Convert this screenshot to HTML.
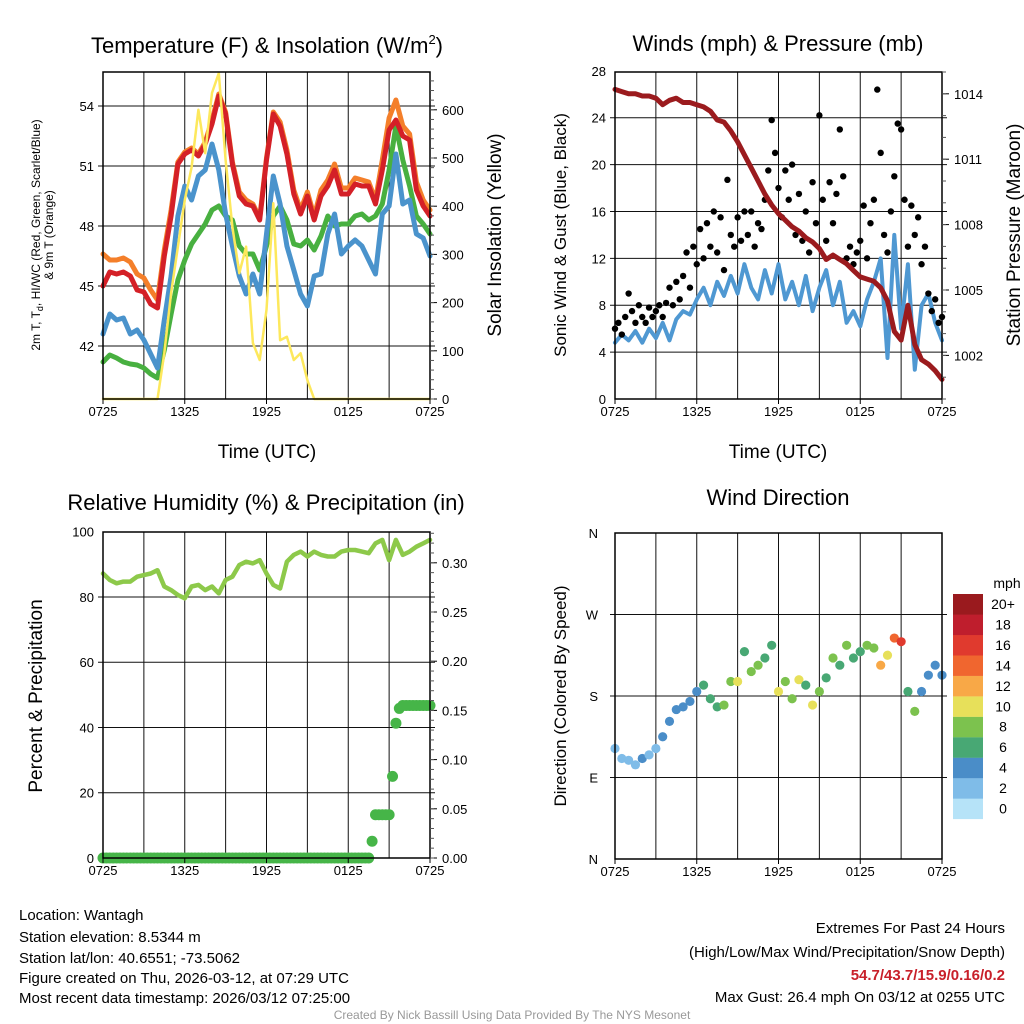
<!DOCTYPE html>
<html><head><meta charset="utf-8"><style>
html,body{margin:0;padding:0;background:#fff;}
svg{display:block;font-family:"Liberation Sans",Arial,sans-serif;}
</style></head><body>
<svg id="chart" width="1024" height="1024" viewBox="0 0 1024 1024" xmlns="http://www.w3.org/2000/svg">
<rect width="1024" height="1024" fill="#fff"/>
<g id="grids"></g>
<g id="marks"></g>
<g id="axes"></g>
<text x="267" y="53" font-size="22" text-anchor="middle">Temperature (F) &amp; Insolation (W/m<tspan font-size="13" dy="-9">2</tspan><tspan dy="9">)</tspan></text>
<text x="778" y="51" font-size="22" text-anchor="middle">Winds (mph) &amp; Pressure (mb)</text>
<text x="266" y="510" font-size="22" text-anchor="middle">Relative Humidity (%) &amp; Precipitation (in)</text>
<text x="778" y="505" font-size="22" text-anchor="middle">Wind Direction</text>
<text x="267" y="458" font-size="19" text-anchor="middle">Time (UTC)</text>
<text x="778" y="458" font-size="19" text-anchor="middle">Time (UTC)</text>
<text transform="translate(40,235) rotate(-90)" font-size="12" text-anchor="middle">2m T, T<tspan font-size="9" dy="3">d</tspan><tspan dy="-3">, HI/WC (Red, Green, Scarlet/Blue)</tspan></text>
<text transform="translate(53,235) rotate(-90)" font-size="12" text-anchor="middle">&amp; 9m T (Orange)</text>
<text transform="translate(501,235) rotate(-90)" font-size="19" text-anchor="middle">Solar Insolation (Yellow)</text>
<text transform="translate(566,235) rotate(-90)" font-size="17" text-anchor="middle">Sonic Wind &amp; Gust (Blue, Black)</text>
<text transform="translate(1020,235) rotate(-90)" font-size="19" text-anchor="middle">Station Pressure (Maroon)</text>
<text transform="translate(42,696) rotate(-90)" font-size="19" text-anchor="middle">Percent &amp; Precipitation</text>
<text transform="translate(566,696) rotate(-90)" font-size="17" text-anchor="middle">Direction (Colored By Speed)</text>
<g id="colorbar"></g>
<text x="1007" y="588" font-size="14" text-anchor="middle">mph</text>
<g font-size="15">
<text x="19" y="920">Location: Wantagh</text>
<text x="19" y="942">Station elevation: 8.5344 m</text>
<text x="19" y="963">Station lat/lon: 40.6551; -73.5062</text>
<text x="19" y="983">Figure created on Thu, 2026-03-12, at 07:29 UTC</text>
<text x="19" y="1003">Most recent data timestamp: 2026/03/12 07:25:00</text>
</g>
<g font-size="15" text-anchor="end">
<text x="1005" y="933">Extremes For Past 24 Hours</text>
<text x="1005" y="957">(High/Low/Max Wind/Precipitation/Snow Depth)</text>
<text x="1005" y="980" fill="#c8202a" font-weight="bold">54.7/43.7/15.9/0.16/0.2</text>
<text x="1005" y="1002">Max Gust: 26.4 mph On 03/12 at 0255 UTC</text>
</g>
<text x="512" y="1019" font-size="12" fill="#999" text-anchor="middle">Created By Nick Bassill Using Data Provided By The NYS Mesonet</text>
</svg>
<script>
const tempRed=[45.0,45.7,45.6,45.7,45.5,44.8,44.7,44.1,43.9,46.5,48.5,51.1,51.6,51.8,51.5,52.1,53.1,54.5,53.6,51.1,49.5,49.1,49.0,48.3,51.3,53.6,53.0,51.6,49.6,48.6,49.5,48.3,49.5,50.0,50.8,49.6,49.6,50.1,50.0,50.0,49.1,50.8,52.8,53.3,52.5,52.3,49.8,49.0,48.5];
const temp9m=[46.6,46.3,46.3,46.4,46.2,45.6,45.4,44.8,44.3,46.8,48.8,51.2,51.7,51.9,51.6,52.2,53.3,54.6,53.7,51.2,49.7,49.3,49.1,48.4,51.4,53.7,53.2,51.8,49.8,48.8,49.7,48.5,49.8,50.3,51.1,49.9,49.9,50.4,50.3,50.2,49.3,51.3,53.4,54.3,53.0,52.6,50.2,49.3,48.8];
const tempGreen=[41.2,41.55,41.4,41.2,41.1,41.05,40.9,40.6,40.4,41.8,43.6,45.3,46.3,47.1,47.6,48.1,48.8,49.0,48.5,48.3,47.0,46.6,46.6,45.8,47.0,48.5,49.0,48.3,47.1,47.0,47.3,46.8,47.5,48.5,48.0,48.1,48.1,48.5,48.6,48.3,48.5,49.1,50.8,53.0,51.3,50.0,48.5,48.1,47.6];
const tempBlue=[42.6,43.6,43.3,43.4,42.6,42.8,42.3,41.6,40.9,43.3,45.5,48.5,50.0,49.3,50.5,50.8,52.1,50.8,48.6,47.0,45.5,44.6,45.6,44.6,47.6,50.5,49.1,47.0,45.8,44.6,44.0,45.5,45.6,47.6,48.6,46.6,47.0,47.3,47.0,46.3,45.6,48.6,49.0,51.6,49.1,49.3,47.6,47.4,46.5];
const insolation=[0,0,0,0,0,0,0,0,0,95,220,316,413,481,600,510,635,676,496,357,261,316,116,81,185,406,122,129,81,95,39,0,0,0,0,0,0,0,0,0,0,0,0,0,0,0,0,0,0];
const windSpeed=[4.8,5.5,5.0,5.8,4.8,6.0,5.2,6.5,5.0,6.8,7.5,7.2,8.5,9.5,8.0,10.0,8.8,10.5,9.0,11.5,9.5,8.5,11.0,9.0,11.5,8.5,10.0,8.0,10.5,7.5,9.5,11.0,8.0,10.0,6.5,7.5,6.2,8.5,10.0,12.0,3.5,14.0,6.0,11.5,2.5,8.0,9.0,6.5,5.0];
const windGust=[6.0,6.5,5.5,7.0,9.0,7.5,6.5,8.0,7.0,6.5,7.8,7.0,7.5,8.0,7.0,8.2,9.5,8.0,10.0,8.5,10.5,12.5,9.5,13.0,11.5,14.5,12.0,15.0,13.0,16.0,12.5,15.5,11.0,18.7,14.0,13.0,15.5,13.5,16.0,14.0,16.0,13.0,15.0,14.5,17.0,19.5,23.8,21.0,18.0,15.5,19.5,17.0,20.0,14.0,17.5,13.5,16.0,12.5,18.5,15.0,24.2,17.0,13.5,18.5,15.0,17.5,23.0,19.0,12.0,13.0,11.5,12.5,13.5,16.5,12.0,15.0,17.0,26.4,21.0,14.0,12.5,16.0,19.0,23.5,23.0,17.0,13.0,16.5,14.0,15.5,11.5,13.0,9.0,7.5,8.5,6.5,7.0];
const pressure=[1014.2,1014.1,1014.0,1014.0,1013.9,1013.9,1013.8,1013.5,1013.7,1013.8,1013.6,1013.6,1013.5,1013.4,1013.2,1012.8,1012.7,1012.3,1011.8,1011.2,1010.6,1010.0,1009.4,1008.9,1008.5,1008.2,1007.9,1007.7,1007.4,1007.2,1006.9,1006.4,1006.6,1006.4,1006.2,1005.9,1005.6,1005.5,1005.4,1005.1,1004.5,1003.1,1002.7,1004.3,1002.5,1001.8,1001.6,1001.3,1000.9];
const humidity=[87.2,85.2,84.2,84.7,84.7,86.2,86.7,87.2,88.2,83.2,82.1,80.6,79.6,83.2,83.7,82.1,83.2,81.1,85.2,86.2,89.8,90.8,90.3,91.3,87.2,83.7,82.6,90.8,92.9,93.9,92.4,93.9,92.9,92.4,92.4,93.9,94.4,94.4,93.9,93.4,96.4,97.5,91.3,97.5,92.9,93.9,95.4,96.4,97.5];
const precip=[0,0,0,0,0,0,0,0,0,0,0,0,0,0,0,0,0,0,0,0,0,0,0,0,0,0,0,0,0,0,0,0,0,0,0,0,0,0,0,0,0,0,0,0,0,0,0,0,0,0,0,0,0,0,0,0,0,0,0,0,0,0,0,0,0,0,0,0,0,0,0,0,0,0,0,0,0,0,0,0.017,0.044,0.044,0.044,0.044,0.044,0.083,0.137,0.152,0.155,0.155,0.155,0.155,0.155,0.155,0.155,0.155,0.155];
const windDir=[122,111,109,104,111,115,122,135,152,165,168,174,185,192,177,168,170,196,196,229,207,214,222,236,185,196,177,198,192,170,185,200,222,214,236,222,229,236,233,214,225,244,240,185,163,185,203,214,203];
const dirSpeed=[3,3,3,3,4,3,3,4,4,4,5,4,5,6,6,7,9,8,10,6,9,8,7,6,10,8,9,10,7,10,9,6,8,7,8,6,7,8,9,13,10,14,17,6,8,5,5,4,4];
const timeLabels=["0725","1325","1925","0125","0725"];
const tempTicks=[42,45,48,51,54];
const insolTicks=[0,100,200,300,400,500,600];
const windTicks=[0,4,8,12,16,20,24,28];
const presTicks=[1002,1005,1008,1011,1014];
const rhTicks=[0,20,40,60,80,100];
const precipTicks=[0,0.05,0.10,0.15,0.20,0.25,0.30];
const dirTicks=[0,90,180,270,360];
const dirLabels=["N","E","S","W","N"];
const speedBins=["0","2","4","6","8","10","12","14","16","18","20+"];
const binColors=["#b6e3f8","#7fbce8","#4a8dc8","#48a874","#7cc24e","#e7e05a","#f8a847","#f0662f","#e03a2e","#bf1e2d","#9a1a1e"];

const NS="http://www.w3.org/2000/svg";
const G=document.getElementById('grids'),M=document.getElementById('marks'),A=document.getElementById('axes');
function mk(tag,at,parent){const e=document.createElementNS(NS,tag);for(const k in at)e.setAttribute(k,at[k]);parent.appendChild(e);return e;}
const P1={x0:103,x1:430,y0:72,y1:399},P2={x0:615,x1:942,y0:72,y1:399},P3={x0:103,x1:430,y0:532,y1:858},P4={x0:615,x1:942,y0:533,y1:859};
const xh=(p,h)=>p.x0+(p.x1-p.x0)*h/24;
const yT=v=>106+(54-v)*20, yI=v=>399-v*0.482, yW=v=>399-v*11.72, yP=v=>399-(v-1000)*21.8;
const yRH=v=>858-v*3.263, yPr=v=>858-v*984, yD=v=>859-v*326/360;

function panelGrid(p,ys,name){
  for(let h=3;h<24;h+=3){const l=mk('line',{x1:xh(p,h),x2:xh(p,h),y1:p.y0,y2:p.y1,stroke:'#111','stroke-width':1},G);
    
    }
  ys.forEach(y=>{const l=mk('line',{x1:p.x0-5,x2:p.x1+5,y1:y,y2:y,stroke:'#111','stroke-width':1},G);
    
    });
  const r=mk('rect',{x:p.x0,y:p.y0,width:p.x1-p.x0,height:p.y1-p.y0,fill:'none',stroke:'#000','stroke-width':1.5},A);
  
  
  timeLabels.forEach((t,i)=>{const x=xh(p,i*6);
    mk('line',{x1:x,x2:x,y1:p.y1,y2:p.y1+5,stroke:'#000'},A);
    const tx=mk('text',{x:x,y:p.y1+17,'font-size':13,'text-anchor':'middle'},A);tx.textContent=t;
    
    });
}
function leftLabels(p,vals,fy,fmt){vals.forEach(v=>{const t=mk('text',{x:p.x0-9,y:fy(v)+5,'font-size':13,'text-anchor':'end'},A);t.textContent=fmt?fmt(v):v;
  
  });}
function rightLabels(p,vals,fy,fmt,minor,fyMin){vals.forEach(v=>{const y=fy(v);mk('line',{x1:p.x1,x2:p.x1+7,y1:y,y2:y,stroke:'#000'},A);
  const t=mk('text',{x:p.x1+12,y:y+5,'font-size':13},A);t.textContent=fmt?fmt(v):v;
  
  });
  (minor||[]).forEach(v=>{const y=fyMin(v);if(y>=p.y0&&y<=p.y1)mk('line',{x1:p.x1,x2:p.x1+4,y1:y,y2:y,stroke:'#555'},A);});}
function seqMinor(a,b,s){const r=[];for(let v=a;v<=b+1e-9;v+=s)r.push(v);return r;}
function path(p,vals,fy,step,color,w,name){let d='';vals.forEach((v,i)=>{d+=(i?'L':'M')+xh(p,i*step).toFixed(1)+','+fy(v).toFixed(1);});
  const e=mk('path',{d:d,fill:'none',stroke:color,'stroke-width':w,'stroke-linejoin':'round','stroke-linecap':'round'},M);
  
  }

panelGrid(P1,tempTicks.map(yT),'temperature');
leftLabels(P1,tempTicks,yT);
rightLabels(P1,insolTicks,yI,null,seqMinor(0,680,20),yI);
path(P1,temp9m,yT,0.5,'#f47f2a',5,'temp-9m-line');
path(P1,tempGreen,yT,0.5,'#48b040',5,'heat-index-line');
path(P1,tempBlue,yT,0.5,'#4a93cc',5,'dewpoint-line');
path(P1,tempRed,yT,0.5,'#d42027',5,'temperature-line');
path(P1,insolation,yI,0.5,'#fde85c',2.5,'insolation-line');

panelGrid(P2,windTicks.slice(1,7).map(yW),'winds');
leftLabels(P2,windTicks,yW);
rightLabels(P2,presTicks,yP,null,seqMinor(1000,1015,1),yP);
path(P2,windSpeed,yW,0.5,'#4f98d2',4,'wind-speed-line');
windGust.forEach((v,i)=>{const c=mk('circle',{cx:xh(P2,i*0.25),cy:yW(v),r:3.2,fill:'#000'},M);
  
  });
path(P2,pressure,yP,0.5,'#9b1b1e',5,'pressure-line');

panelGrid(P3,rhTicks.slice(1,5).map(yRH),'humidity');
leftLabels(P3,rhTicks,yRH);
rightLabels(P3,precipTicks,yPr,v=>v.toFixed(2),seqMinor(0,0.33,0.01),yPr);
path(P3,humidity,yRH,0.5,'#8dc94a',4.5,'humidity-line');
precip.forEach((v,i)=>{const c=mk('circle',{cx:xh(P3,i*0.25),cy:yPr(v),r:5.5,fill:'#46b548'},M);
  
  });

panelGrid(P4,dirTicks.slice(1,4).map(yD),'direction');
dirTicks.forEach((v,i)=>{const t=mk('text',{x:P4.x0-17,y:yD(v)+5,'font-size':13,'text-anchor':'end'},A);t.textContent=dirLabels[i];
  
  });
windDir.forEach((v,i)=>{const b=Math.min(10,Math.floor(dirSpeed[i]/2));
  const c=mk('circle',{cx:xh(P4,i*0.5),cy:yD(v),r:4.6,fill:binColors[b]},M);
  
  });

const CB=document.getElementById('colorbar');
speedBins.forEach((s,i)=>{const y=594+(10-i)*20.45;
  const r=mk('rect',{x:953,y:y,width:30,height:20.6,fill:binColors[i]},CB);
  
  
  const t=mk('text',{x:1003,y:y+15,'font-size':14,'text-anchor':'middle'},CB);t.textContent=s;
  
  });
</script>
</body></html>
